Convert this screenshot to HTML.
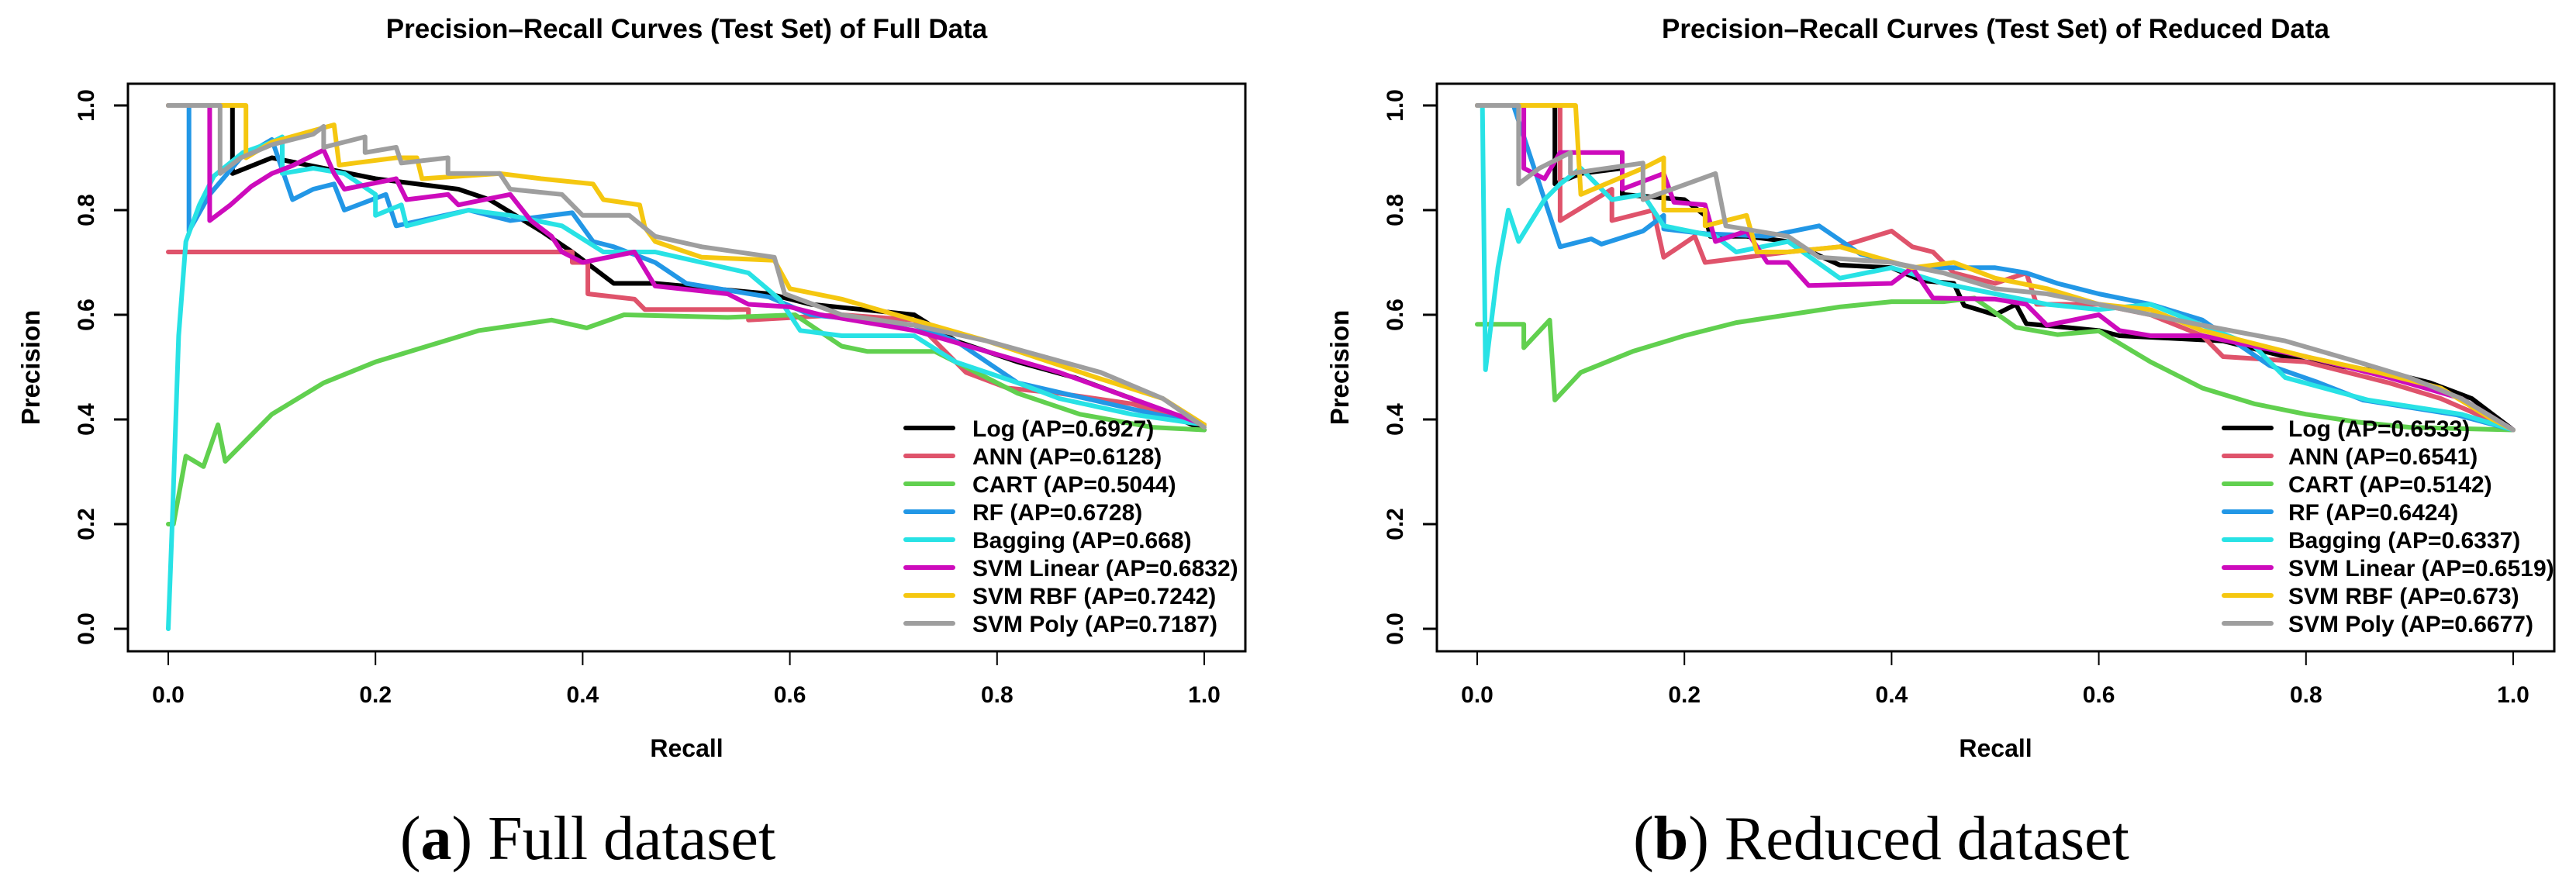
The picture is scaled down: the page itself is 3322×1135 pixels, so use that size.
<!DOCTYPE html>
<html><head><meta charset="utf-8">
<style>
html,body{margin:0;padding:0;background:#fff;}
svg{display:block;}
text{font-family:"Liberation Sans",Arial,sans-serif;}
.cap{font-family:"Liberation Serif","Times New Roman",serif;}
</style></head>
<body>
<svg id="chart" width="3322" height="1135" viewBox="0 0 3322 1135" xmlns="http://www.w3.org/2000/svg"></svg>
<script>
// ---------- data ----------
const seriesNames = ["Log","ANN","CART","RF","Bagging","SVM Linear","SVM RBF","SVM Poly"];
const seriesColors = ["#000000","#DF536B","#61D04F","#2297E6","#28E2E5","#CD0BBC","#F5C710","#9E9E9E"];
const fullAP = ["0.6927","0.6128","0.5044","0.6728","0.668","0.6832","0.7242","0.7187"];
const reducedAP = ["0.6533","0.6541","0.5142","0.6424","0.6337","0.6519","0.673","0.6677"];
const xTicks = [0,0.2,0.4,0.6,0.8,1.0];
const yTicks = [0,0.2,0.4,0.6,0.8,1.0];
const tickLabels = ["0.0","0.2","0.4","0.6","0.8","1.0"];

// Full dataset curves [recall, precision]
const fullLog = [[0,1],[0.062,1],[0.062,0.87],[0.1,0.9],[0.2,0.86],[0.28,0.84],[0.31,0.82],[0.36,0.76],[0.39,0.72],[0.43,0.66],[0.47,0.66],[0.58,0.64],[0.62,0.62],[0.72,0.6],[0.76,0.55],[0.82,0.51],[0.875,0.48],[0.93,0.44],[1,0.38]];
const fullANN = [[0,0.72],[0.39,0.72],[0.39,0.7],[0.405,0.7],[0.405,0.64],[0.45,0.63],[0.46,0.61],[0.56,0.61],[0.56,0.59],[0.65,0.6],[0.72,0.59],[0.77,0.49],[0.81,0.46],[0.86,0.45],[0.93,0.43],[1,0.39]];
const fullCART = [[0,0.2],[0.005,0.2],[0.017,0.33],[0.034,0.31],[0.048,0.39],[0.055,0.32],[0.1,0.41],[0.15,0.47],[0.2,0.51],[0.25,0.54],[0.3,0.57],[0.37,0.59],[0.404,0.575],[0.44,0.6],[0.54,0.595],[0.605,0.6],[0.65,0.54],[0.675,0.53],[0.74,0.53],[0.82,0.45],[0.88,0.41],[0.95,0.385],[1,0.38]];
const fullRF = [[0,1],[0.02,1],[0.02,0.76],[0.04,0.83],[0.07,0.9],[0.1,0.935],[0.12,0.82],[0.14,0.84],[0.16,0.85],[0.17,0.8],[0.21,0.83],[0.22,0.77],[0.29,0.8],[0.33,0.78],[0.39,0.795],[0.41,0.74],[0.43,0.73],[0.47,0.7],[0.5,0.66],[0.58,0.634],[0.62,0.6],[0.72,0.58],[0.76,0.55],[0.82,0.47],[0.93,0.42],[1,0.39]];
const fullBag = [[0,0],[0.004,0.21],[0.01,0.56],[0.017,0.74],[0.03,0.81],[0.044,0.865],[0.072,0.91],[0.1,0.93],[0.11,0.94],[0.11,0.87],[0.14,0.88],[0.17,0.87],[0.2,0.83],[0.2,0.79],[0.225,0.81],[0.23,0.77],[0.29,0.8],[0.33,0.79],[0.38,0.77],[0.42,0.72],[0.47,0.72],[0.515,0.7],[0.56,0.68],[0.59,0.63],[0.61,0.57],[0.65,0.56],[0.72,0.56],[0.76,0.51],[0.82,0.47],[0.86,0.44],[0.93,0.41],[1,0.39]];
const fullSVML = [[0,1],[0.04,1],[0.04,0.78],[0.06,0.81],[0.08,0.845],[0.1,0.87],[0.12,0.885],[0.15,0.915],[0.16,0.87],[0.17,0.84],[0.22,0.86],[0.23,0.82],[0.27,0.83],[0.28,0.81],[0.33,0.83],[0.35,0.78],[0.37,0.75],[0.38,0.72],[0.4,0.7],[0.45,0.72],[0.47,0.655],[0.54,0.64],[0.56,0.62],[0.6,0.615],[0.63,0.6],[0.72,0.57],[0.79,0.53],[0.86,0.49],[0.93,0.44],[1,0.39]];
const fullRBF = [[0,1],[0.075,1],[0.075,0.9],[0.1,0.93],[0.16,0.963],[0.165,0.886],[0.18,0.89],[0.22,0.9],[0.24,0.9],[0.245,0.86],[0.32,0.87],[0.36,0.86],[0.41,0.85],[0.42,0.82],[0.455,0.81],[0.46,0.767],[0.47,0.74],[0.515,0.71],[0.585,0.704],[0.6,0.65],[0.65,0.63],[0.72,0.59],[0.79,0.55],[0.896,0.48],[0.96,0.44],[1,0.39]];
const fullPoly = [[0,1],[0.05,1],[0.05,0.87],[0.07,0.9],[0.1,0.925],[0.14,0.945],[0.15,0.96],[0.15,0.92],[0.19,0.94],[0.19,0.91],[0.22,0.92],[0.225,0.89],[0.27,0.9],[0.27,0.87],[0.32,0.87],[0.33,0.84],[0.38,0.83],[0.4,0.79],[0.445,0.79],[0.47,0.75],[0.515,0.73],[0.585,0.71],[0.595,0.64],[0.65,0.6],[0.72,0.58],[0.79,0.55],[0.9,0.49],[0.96,0.44],[1,0.385]];

// Reduced dataset curves
const redLog = [[0,1],[0.075,1],[0.075,0.85],[0.1,0.87],[0.14,0.88],[0.14,0.83],[0.2,0.82],[0.22,0.79],[0.225,0.75],[0.26,0.75],[0.3,0.74],[0.35,0.695],[0.4,0.69],[0.43,0.665],[0.46,0.66],[0.47,0.618],[0.5,0.6],[0.52,0.62],[0.53,0.583],[0.6,0.57],[0.62,0.56],[0.65,0.557],[0.72,0.55],[0.8,0.51],[0.88,0.49],[0.92,0.47],[0.96,0.44],[1,0.38]];
const redANN = [[0.08,1],[0.08,0.78],[0.13,0.84],[0.13,0.78],[0.17,0.8],[0.18,0.71],[0.21,0.75],[0.22,0.7],[0.3,0.72],[0.35,0.73],[0.4,0.76],[0.42,0.73],[0.44,0.72],[0.46,0.68],[0.48,0.67],[0.5,0.66],[0.53,0.68],[0.54,0.62],[0.6,0.62],[0.65,0.6],[0.7,0.56],[0.72,0.52],[0.8,0.51],[0.88,0.47],[0.93,0.44],[1,0.38]];
const redCART = [[0,0.582],[0.045,0.582],[0.045,0.537],[0.07,0.59],[0.075,0.437],[0.1,0.49],[0.15,0.53],[0.2,0.56],[0.25,0.585],[0.3,0.6],[0.35,0.615],[0.4,0.625],[0.45,0.625],[0.48,0.632],[0.52,0.576],[0.56,0.562],[0.6,0.569],[0.65,0.51],[0.7,0.46],[0.75,0.43],[0.8,0.41],[0.85,0.395],[0.9,0.385],[1,0.38]];
const redRF = [[0,1],[0.035,1],[0.08,0.73],[0.11,0.745],[0.12,0.735],[0.16,0.76],[0.18,0.79],[0.18,0.764],[0.22,0.755],[0.28,0.75],[0.33,0.77],[0.37,0.716],[0.42,0.69],[0.5,0.69],[0.53,0.68],[0.56,0.66],[0.6,0.64],[0.65,0.62],[0.7,0.59],[0.765,0.503],[0.81,0.472],[0.855,0.437],[0.945,0.409],[1,0.38]];
const redBag = [[0,1],[0.005,1],[0.008,0.495],[0.02,0.69],[0.03,0.8],[0.04,0.74],[0.065,0.82],[0.08,0.85],[0.1,0.88],[0.12,0.84],[0.13,0.82],[0.16,0.83],[0.18,0.77],[0.23,0.75],[0.25,0.72],[0.3,0.74],[0.35,0.67],[0.4,0.69],[0.45,0.66],[0.5,0.64],[0.55,0.62],[0.6,0.61],[0.65,0.62],[0.7,0.58],[0.75,0.54],[0.78,0.48],[0.86,0.437],[0.95,0.41],[1,0.38]];
const redSVML = [[0,1],[0.045,1],[0.045,0.88],[0.065,0.86],[0.08,0.91],[0.14,0.91],[0.14,0.84],[0.18,0.87],[0.19,0.815],[0.22,0.81],[0.23,0.74],[0.26,0.76],[0.28,0.7],[0.3,0.7],[0.32,0.656],[0.4,0.66],[0.42,0.69],[0.44,0.632],[0.5,0.63],[0.53,0.62],[0.55,0.58],[0.6,0.6],[0.62,0.57],[0.65,0.56],[0.7,0.56],[0.8,0.52],[0.88,0.48],[0.95,0.44],[1,0.38]];
const redRBF = [[0,1],[0.095,1],[0.1,0.83],[0.16,0.88],[0.18,0.9],[0.18,0.8],[0.22,0.8],[0.22,0.77],[0.26,0.79],[0.27,0.72],[0.3,0.72],[0.35,0.73],[0.42,0.69],[0.46,0.7],[0.5,0.67],[0.55,0.65],[0.6,0.62],[0.65,0.61],[0.7,0.57],[0.8,0.52],[0.87,0.49],[0.93,0.46],[0.98,0.4],[1,0.38]];
const redPoly = [[0,1],[0.04,1],[0.04,0.85],[0.06,0.88],[0.09,0.91],[0.09,0.87],[0.16,0.89],[0.16,0.82],[0.23,0.87],[0.24,0.77],[0.3,0.75],[0.33,0.71],[0.4,0.7],[0.45,0.68],[0.5,0.65],[0.55,0.64],[0.6,0.62],[0.7,0.58],[0.78,0.55],[0.85,0.51],[0.9,0.48],[0.95,0.44],[1,0.38]];

const fullSeries = [fullLog,fullANN,fullCART,fullRF,fullBag,fullSVML,fullRBF,fullPoly];
const redSeries = [redLog,redANN,redCART,redRF,redBag,redSVML,redRBF,redPoly];

// ---------- drawing ----------
const NS = "http://www.w3.org/2000/svg";
const svg = document.getElementById("chart");
function mk(tag, attrs, parent){
  const e = document.createElementNS(NS, tag);
  for (const k in attrs) e.setAttribute(k, attrs[k]);
  (parent||svg).appendChild(e);
  return e;
}

function panel(off, title, caption, capLetter, series, aps, key){
  const g = mk("g", {});
  
  
  const x0 = 217 + off, xw = 1336;
  const y0 = 811, yh = 675;
  const sx = v => x0 + v * xw;
  const sy = v => y0 - v * yh;
  const boxL = 165 + off, boxR = 1606 + off, boxT = 108, boxB = 840;

  const t = mk("text", {x: (boxL+boxR)/2, y: 49, "text-anchor":"middle", "font-size":35, "font-weight":"bold"}, g);
  t.textContent = title;
  
  

  // curves
  const cg = mk("g", {}, g);
  
  
  series.forEach((s, i) => {
    const pts = s.map(p => sx(p[0]).toFixed(1) + "," + sy(p[1]).toFixed(1)).join(" ");
    const pl = mk("polyline", {points: pts, fill:"none", stroke: seriesColors[i], "stroke-width":6, "stroke-linejoin":"round", "stroke-linecap":"round"}, cg);
    
    
  });

  // box
  const box = mk("rect", {x: boxL, y: boxT, width: boxR-boxL, height: boxB-boxT, fill:"none", stroke:"#000", "stroke-width":3}, g);
  
  

  // x axis
  xTicks.forEach((v, i) => {
    const tk = mk("line", {x1: sx(v), x2: sx(v), y1: boxB, y2: boxB+18, stroke:"#000", "stroke-width":2}, g);
    
    
    const lb = mk("text", {x: sx(v), y: 906, "text-anchor":"middle", "font-size":30, "font-weight":"bold"}, g);
    lb.textContent = tickLabels[i];
    
    
  });
  // y axis
  yTicks.forEach((v, i) => {
    const tk = mk("line", {x1: boxL-18, x2: boxL, y1: sy(v), y2: sy(v), stroke:"#000", "stroke-width":3}, g);
    
    
    const lx = 121 + off, ly = sy(v);
    const lb = mk("text", {x: lx, y: ly, "text-anchor":"middle", "font-size":30, "font-weight":"bold", transform:"rotate(-90 " + lx + " " + ly + ")"}, g);
    lb.textContent = tickLabels[i];
    
    
  });
  const xt = mk("text", {x: (boxL+boxR)/2, y: 976, "text-anchor":"middle", "font-size":32, "font-weight":"bold"}, g);
  xt.textContent = "Recall";
  
  
  const yx = 51 + off, yy = (boxT+boxB)/2;
  const yt = mk("text", {x: yx, y: yy, "text-anchor":"middle", "font-size":33, "font-weight":"bold", transform:"rotate(-90 " + yx + " " + yy + ")"}, g);
  yt.textContent = "Precision";
  
  

  // legend
  const lg = mk("g", {}, g);
  
  
  seriesNames.forEach((n, i) => {
    const yy2 = 552 + i * 36;
    const ln = mk("line", {x1: 1168 + off + (key==='reduced'? 12:0), x2: 1229 + off + (key==='reduced'? 12:0), y1: yy2, y2: yy2, stroke: seriesColors[i], "stroke-width":6, "stroke-linecap":"round"}, lg);
    
    
    const tx = mk("text", {x: 1254 + off + (key==='reduced'? 9:0), y: yy2 + 11, "font-size":30, "font-weight":"bold"}, lg);
    tx.textContent = n + " (AP=" + aps[i] + ")";
    
    
  });

  // caption
  const cp = mk("text", {x: caption.cx, y: 1108, "text-anchor":"middle", "font-size":80, "class":"cap"}, g);
  
  
  const s1 = mk("tspan", {}, cp); s1.textContent = "(";
  const s2 = mk("tspan", {"font-weight":"bold"}, cp); s2.textContent = capLetter;
  const s3 = mk("tspan", {}, cp); s3.textContent = ") " + caption.text;
}

panel(0, "Precision\u2013Recall Curves (Test Set) of Full Data", {cx:758, text:"Full dataset"}, "a", fullSeries, fullAP, "full");
panel(1688, "Precision\u2013Recall Curves (Test Set) of Reduced Data", {cx:2426, text:"Reduced dataset"}, "b", redSeries, reducedAP, "reduced");
</script>
</body></html>
